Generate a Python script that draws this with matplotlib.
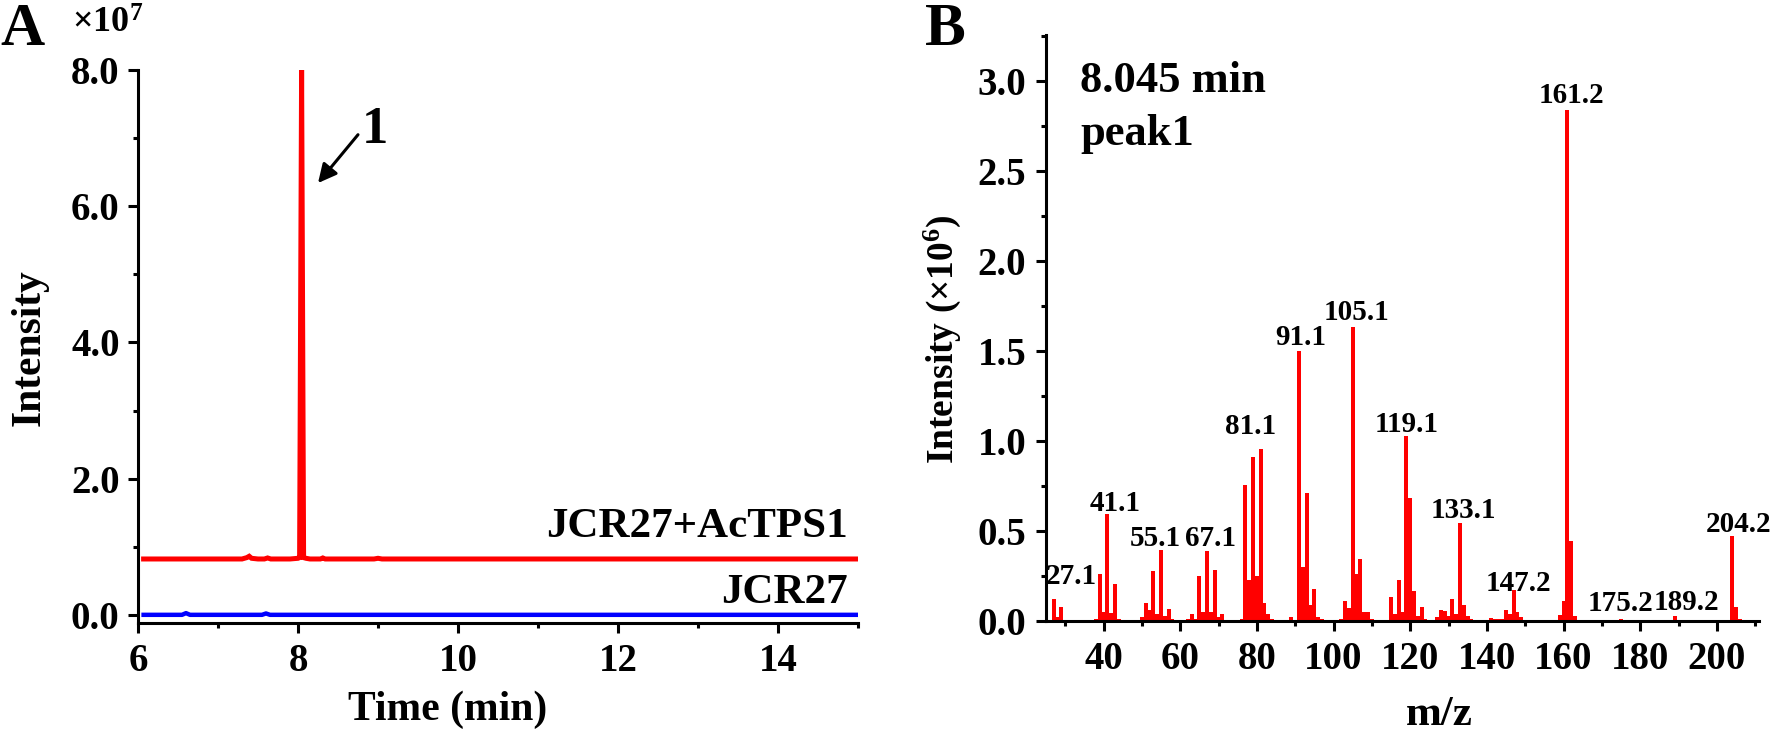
import matplotlib
matplotlib.use("Agg")
import matplotlib.pyplot as plt
from matplotlib.ticker import MultipleLocator, FormatStrFormatter

plt.rcParams['font.family'] = ['Liberation Serif', 'DejaVu Serif']
plt.rcParams['font.weight'] = 'bold'
plt.rcParams['mathtext.fontset'] = 'custom'
plt.rcParams['mathtext.rm'] = 'Liberation Serif:bold'
plt.rcParams['mathtext.bf'] = 'Liberation Serif:bold'
plt.rcParams['mathtext.default'] = 'regular'

# ---------------- Panel A data (chromatogram, intensity x1e7) ----------------
red_time = [6.07, 7.30, 7.36, 7.39, 7.42, 7.50, 7.58, 7.62, 7.66, 7.90, 8.00,
            8.02, 8.045, 8.07, 8.10, 8.15, 8.28, 8.31, 8.34, 8.95, 9.00, 9.05, 15.0]
red_int = [0.82, 0.82, 0.84, 0.86, 0.83, 0.82, 0.82, 0.835, 0.82, 0.82, 0.83,
           0.84, 8.0, 0.84, 0.83, 0.82, 0.82, 0.835, 0.82, 0.82, 0.83, 0.82, 0.82]
blue_time = [6.07, 6.55, 6.60, 6.65, 7.55, 7.60, 7.65, 15.0]
blue_int = [0.0, 0.0, 0.025, 0.0, 0.0, 0.02, 0.0, 0.0]
trace_names = ['JCR27+AcTPS1', 'JCR27']

# ---------------- Panel B data (mass spectrum, intensity x1e6) ----------------
mz = [27, 28, 29, 30, 31, 32, 37, 38, 39, 40, 41, 42, 43, 44, 45, 49, 50, 51, 52, 53,
      54, 55, 56, 57, 58, 59, 62, 63, 64, 65, 66, 67, 68, 69, 70, 71, 72, 73, 74, 75,
      76, 77, 78, 79, 80, 81, 82, 83, 84, 85, 89, 90, 91, 92, 93, 94, 95, 96, 97, 98,
      102, 103, 104, 105, 106, 107, 108, 109, 110, 114, 115, 116, 117, 118, 119, 120,
      121, 122, 123, 124, 126, 127, 128, 129, 130, 131, 132, 133, 134, 135, 136, 137,
      141, 142, 143, 144, 145, 146, 147, 148, 149, 150, 159, 160, 161, 162, 163, 164,
      175, 176, 189, 190, 204, 205, 206]
intensity = [0.12, 0.02, 0.078, 0.005, 0.005, 0.005, 0.005, 0.01, 0.263, 0.05, 0.597,
             0.045, 0.207, 0.01, 0.005, 0.005, 0.02, 0.10, 0.06, 0.28,
             0.04, 0.397, 0.03, 0.065, 0.01, 0.005, 0.01, 0.04, 0.012, 0.252, 0.05,
             0.387, 0.05, 0.285, 0.02, 0.04, 0.005, 0.005, 0.005, 0.008,
             0.01, 0.758, 0.23, 0.911, 0.25, 0.958, 0.10, 0.04, 0.01, 0.005, 0.02,
             0.005, 1.497, 0.30, 0.713, 0.09, 0.18, 0.02, 0.01, 0.005,
             0.01, 0.11, 0.07, 1.632, 0.26, 0.343, 0.05, 0.05, 0.01, 0.005, 0.133,
             0.04, 0.226, 0.05, 1.026, 0.685,
             0.165, 0.03, 0.08, 0.01, 0.005, 0.02, 0.06, 0.055, 0.03, 0.122, 0.04,
             0.545, 0.09, 0.03, 0.01, 0.005,
             0.015, 0.01, 0.01, 0.012, 0.06, 0.04, 0.174, 0.05, 0.02, 0.005, 0.035,
             0.109, 2.84, 0.443, 0.03, 0.005,
             0.012, 0.005, 0.025, 0.005, 0.474, 0.08, 0.01]
label_mz = [27, 41, 55, 67, 81, 91, 105, 119, 133, 147, 161, 175, 189, 204]
label_text = ['27.1', '41.1', '55.1', '67.1', '81.1', '91.1', '105.1', '119.1',
              '133.1', '147.2', '161.2', '175.2', '189.2', '204.2']
# label offsets from bar top (pixels)
label_dx = [18, 8, -6, 4, -10, 2, 4, 0, 3, 5, 4, -1, 12, 6.5]
label_dy = [15, 2.5, 3.6, 5.3, 15, 6.7, 7, 4.3, 4.4, -1, 6.7, 8, 6, 3.3]

RED = '#FF0000'
BLUE = '#0000FF'
W, H = 1770, 733
fig = plt.figure(figsize=(W / 100, H / 100), dpi=100)

def style_axes(ax):
    for s in ('top', 'right'):
        ax.spines[s].set_visible(False)
    for s in ('left', 'bottom'):
        ax.spines[s].set_linewidth(2.2)
    ax.tick_params(which='major', direction='out', length=7.2, width=2.2, pad=6)
    ax.tick_params(which='minor', direction='out', length=3.8, width=2.2)

# ---------------- Panel A ----------------
axA = fig.add_axes([138 / W, 1 - 623 / H, 720 / W, (623 - 70) / H])
axA.plot(red_time, red_int, color=RED, lw=3.6, solid_joinstyle='miter')
axA.plot(blue_time, blue_int, color=BLUE, lw=3.2)
axA.set_xlim(6, 15)
axA.set_ylim(-0.12, 8.0)
style_axes(axA)
axA.xaxis.set_major_locator(MultipleLocator(2))
axA.xaxis.set_minor_locator(MultipleLocator(1))
axA.yaxis.set_major_locator(MultipleLocator(2))
axA.yaxis.set_minor_locator(MultipleLocator(1))
axA.yaxis.set_major_formatter(FormatStrFormatter('%.1f'))
axA.tick_params(axis='both', labelsize=28)
axA.tick_params(axis='y', pad=6)
axA.tick_params(axis='x', pad=7)
axA.text(14.875, 1.145, trace_names[0], ha='right', va='baseline', fontsize=31, fontweight='bold')
axA.text(14.875, 0.176, trace_names[1], ha='right', va='baseline', fontsize=31, fontweight='bold')
axA.annotate('', xy=(8.25, 6.34), xytext=(8.75, 7.05),
             arrowprops=dict(arrowstyle='-|>', color='black', lw=2.2, mutation_scale=28,
                             shrinkA=0, shrinkB=0))
axA.text(8.96, 6.93, '1', ha='center', va='baseline', fontsize=38, fontweight='bold')
fig.text(448 / W, 1 - 720 / H, 'Time (min)', ha='center', va='baseline', fontsize=30, fontweight='bold')
fig.text(30 / W, 1 - 348 / H, 'Intensity', ha='center', va='center', rotation=90,
         fontsize=30, fontweight='bold')
fig.text(72 / W, 1 - 33 / H, '×10$^{7}$', ha='left', va='baseline', fontsize=26, fontweight='bold')
fig.text(0.0, 1 - 45 / H, 'A', ha='left', va='baseline', fontsize=44, fontweight='bold')

# ---------------- Panel B ----------------
axB = fig.add_axes([1046 / W, 1 - 621 / H, 713 / W, (621 - 35) / H])
axB.bar(mz, intensity, width=1.0, color=RED, linewidth=0)
axB.set_xlim(25, 211)
axB.set_ylim(0, 3.255)
style_axes(axB)
axB.xaxis.set_major_locator(MultipleLocator(20))
axB.xaxis.set_minor_locator(MultipleLocator(10))
axB.yaxis.set_major_locator(MultipleLocator(0.5))
axB.yaxis.set_minor_locator(MultipleLocator(0.25))
axB.yaxis.set_major_formatter(FormatStrFormatter('%.1f'))
axB.set_xticks([40, 60, 80, 100, 120, 140, 160, 180, 200])
axB.tick_params(axis='both', labelsize=28)
axB.tick_params(axis='y', pad=7)
axB.tick_params(axis='x', pad=7)
height_of = dict(zip(mz, intensity))
for m, t, dx, dy in zip(label_mz, label_text, label_dx, label_dy):
    axB.annotate(t, xy=(m, height_of[m]), xytext=(dx, dy), textcoords='offset pixels',
                 ha='center', va='baseline', fontsize=21, fontweight='bold')
axB.text(0.048, 0.903, '8.045 min', transform=axB.transAxes, ha='left', va='baseline',
         fontsize=32, fontweight='bold')
axB.text(0.048, 0.812, 'peak1', transform=axB.transAxes, ha='left', va='baseline',
         fontsize=32, fontweight='bold')
fig.text(1439 / W, 1 - 725 / H, 'm/z', ha='center', va='baseline', fontsize=31, fontweight='bold')
fig.text(942 / W, 1 - 339 / H, 'Intensity (×10$^{6}$)', ha='center', va='center', rotation=90,
         fontsize=27, fontweight='bold')
fig.text(925 / W, 1 - 45 / H, 'B', ha='left', va='baseline', fontsize=44, fontweight='bold')

fig.savefig('out.png', dpi=100)
